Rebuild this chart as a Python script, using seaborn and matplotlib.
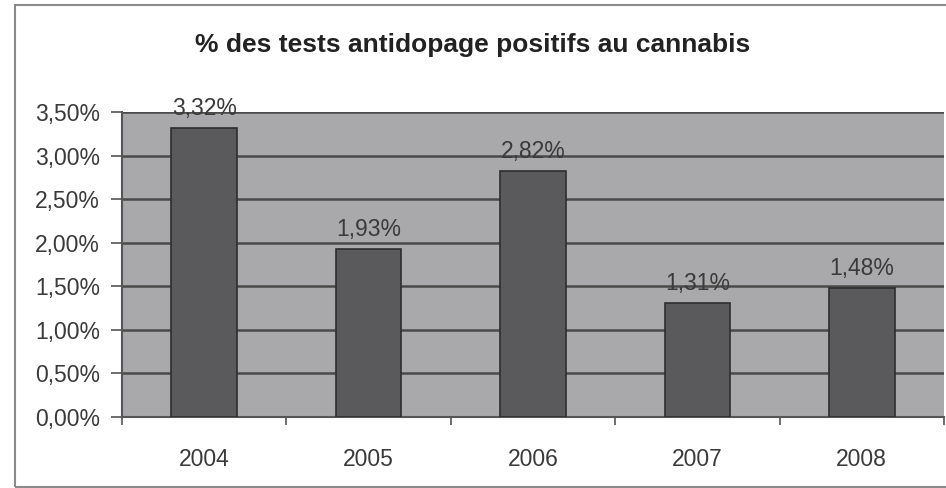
import matplotlib
matplotlib.use("Agg")
import matplotlib.pyplot as plt
import matplotlib.patches as mpatches
from matplotlib.ticker import FuncFormatter, FixedLocator
import seaborn as sns
import pandas as pd

# Data
years = ["2004", "2005", "2006", "2007", "2008"]
taux = [3.32, 1.93, 2.82, 1.31, 1.48]
yticks = [0.0, 0.5, 1.0, 1.5, 2.0, 2.5, 3.0, 3.5]

df = pd.DataFrame({"annee": years, "taux": taux})

sns.set_style("white")
plt.rcParams["font.family"] = ["Liberation Sans", "DejaVu Sans"]

fig = plt.figure(figsize=(9.46, 4.88), dpi=100)
ax = fig.add_axes([122 / 946, 1 - 417 / 488, 822 / 946, 305 / 488])

# outer frame of the chart
fig.patches.append(mpatches.Rectangle((15 / 946, 1 - 487 / 488), 0.99, 482 / 488,
                                      transform=fig.transFigure, fill=False,
                                      edgecolor="#8a8a8a", linewidth=1.5))

ax.set_facecolor("#a9a9ab")
sns.barplot(data=df, x="annee", y="taux", ax=ax, color="#5a5a5c",
            width=0.4, edgecolor="#2e2e2e", linewidth=1.2, saturation=1, zorder=3)

ax.set_ylim(0, 3.5)
ax.set_xlim(-0.5, len(years) - 0.5)
ax.set_yticks(yticks)
ax.yaxis.set_major_formatter(FuncFormatter(lambda v, p: f"{v:.2f}%".replace(".", ",")))
for y in yticks[1:]:
    ax.axhline(y, color="#4a4a4a", linewidth=1.8, zorder=1)

# category boundaries as ticks
ax.xaxis.set_minor_locator(FixedLocator([i - 0.5 for i in range(len(years) + 1)]))
ax.tick_params(axis="x", which="major", length=0, pad=22, labelsize=16.5, colors="#3a3a3a")
ax.tick_params(axis="x", which="minor", length=6, width=1.2, color="#555555", direction="out")
ax.tick_params(axis="y", length=8, width=1.2, color="#555555", direction="out",
               labelsize=16.5, labelcolor="#3a3a3a", pad=8)
ax.tick_params(bottom=True, left=True, which="both")

for side in ["top", "right"]:
    ax.spines[side].set_visible(False)
for side in ["left", "bottom"]:
    ax.spines[side].set_color("#555555")
    ax.spines[side].set_linewidth(1.5)

for i, v in enumerate(taux):
    ax.text(i, v + 0.09, f"{v:.2f}%".replace(".", ","), ha="center", va="bottom",
            fontsize=16.5, color="#3a3a3a", zorder=4)

ax.set_xlabel("")
ax.set_ylabel("")
fig.text(0.5, 1 - 45 / 488, "% des tests antidopage positifs au cannabis",
         ha="center", va="center", fontsize=19, fontweight="bold", color="#222222")

fig.savefig("out.png", dpi=100)
